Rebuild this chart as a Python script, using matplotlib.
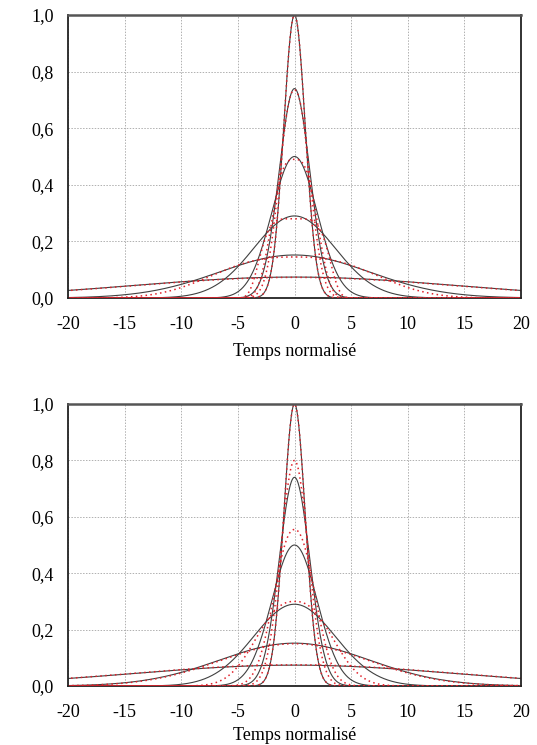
import numpy as np
import matplotlib
matplotlib.use("Agg")
import matplotlib.pyplot as plt
from matplotlib.ticker import FuncFormatter, MultipleLocator

plt.rcParams['font.family'] = ['Liberation Serif', 'DejaVu Serif']
plt.rcParams['font.size'] = 13
plt.rcParams['axes.unicode_minus'] = False

# pulse parameters (peak height, rms width, shape order)
black_peak = [1.0, 0.74, 0.50, 0.29, 0.152, 0.074]
black_width = [0.95, 1.35, 2.0, 3.6, 6.6, 14.0]

# top panel, red dotted pulses
red_top_peak = [1.0, 0.735, 0.49, 0.28, 0.145, 0.073]
red_top_width = [0.95, 1.3, 1.9, 2.9, 6.8, 14.0]
red_top_order = [1.0, 1.1, 1.5, 2.5, 1.3, 1.0]

# bottom panel, red dotted pulses
red_bot_peak = [1.0, 0.80, 0.555, 0.30, 0.15, 0.075]
red_bot_width = [0.95, 1.2, 1.75, 3.2, 6.5, 14.0]
red_bot_order = [1.0, 1.0, 1.1, 1.2, 1.0, 1.0]

x_ticks = [-20, -15, -10, -5, 0, 5, 10, 15, 20]
x_label = "Temps normalisé"

t = np.linspace(-20, 20, 1601)


def pulse(peak, width, order=1.0):
    return peak * np.exp(-0.5 * (np.abs(t) / width) ** (2 * order))


def comma(v, pos):
    return f"{v:.1f}".replace('.', ',')


fig = plt.figure(figsize=(5.37, 7.45), dpi=100)
ax_top = fig.add_axes([68 / 537, 1 - 298 / 745, 453 / 537, 283 / 745])
ax_bot = fig.add_axes([68 / 537, 1 - 686 / 745, 453 / 537, 282 / 745])

panels = [
    (ax_top, red_top_peak, red_top_width, red_top_order),
    (ax_bot, red_bot_peak, red_bot_width, red_bot_order),
]

# dash phase of each red curve so the dots along the baseline fill in
offsets = [0.0, 0.8, 1.6, 2.4, 0.4, 1.2]

for ax, rp, rw, ro in panels:
    for p, w in zip(black_peak, black_width):
        ax.plot(t, pulse(p, w), color='#404040', lw=0.8, zorder=3)
    for i, (p, w, o) in enumerate(zip(rp, rw, ro)):
        ax.plot(t, pulse(p, w, o), color='#e0202a', lw=1.1,
                linestyle=(offsets[i], (1, 2.2)), zorder=4)

    ax.set_xlim(-20, 20)
    ax.set_ylim(0, 1)
    ax.set_xticks(x_ticks)
    ax.yaxis.set_major_locator(MultipleLocator(0.2))
    ax.yaxis.set_major_formatter(FuncFormatter(comma))
    ax.grid(True, color='#b0b0b0', linestyle=(0, (1.5, 1.5)), lw=0.7)
    ax.set_axisbelow(True)
    ax.tick_params(axis='x', length=0, pad=13)
    ax.tick_params(axis='y', length=0, pad=10)
    for s in ax.spines.values():
        s.set_linewidth(1.3)
        s.set_color('#222222')
        s.set_zorder(5)
    ax.spines['top'].set_color('#555555')
    ax.spines['top'].set_linewidth(1.8)
    ax.spines['bottom'].set_zorder(2.5)

ax_top.set_xlabel(x_label, labelpad=7)
ax_bot.set_xlabel(x_label, labelpad=4)

fig.savefig("out.png", dpi=100)
